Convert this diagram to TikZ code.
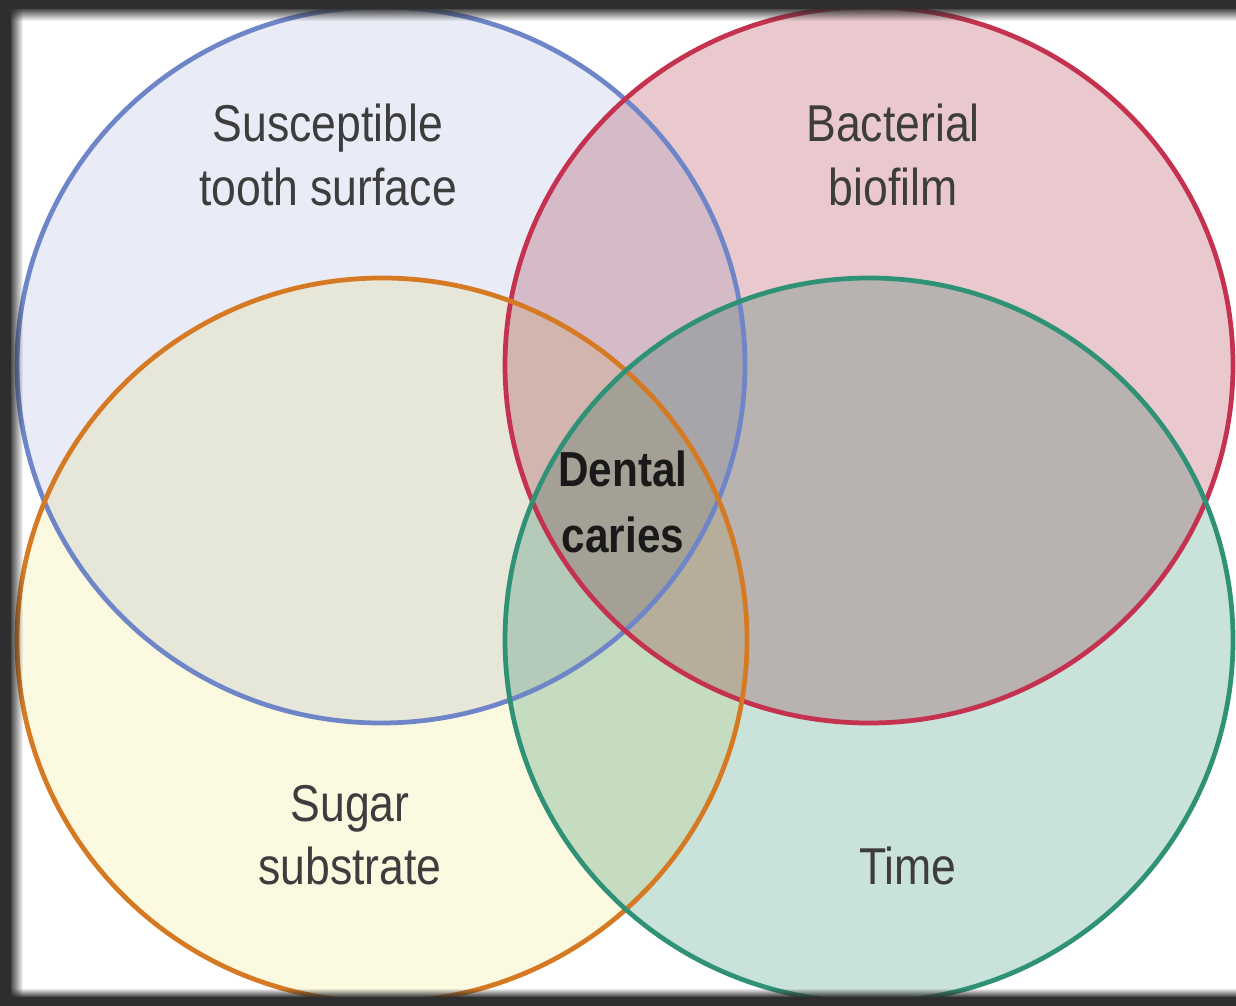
\documentclass[tikz,border=0pt]{standalone}
\usepackage{fontspec}
\setmainfont[FakeStretch=0.86]{Liberation Sans}
\usepackage{tikz}
\usetikzlibrary{positioning}

\definecolor{tsline}{HTML}{6E86C8}
\definecolor{tsfill}{HTML}{E9ECF7}
\definecolor{bbline}{HTML}{C4324F}
\definecolor{bbfill}{HTML}{EAC9CE}
\definecolor{ssline}{HTML}{D57A22}
\definecolor{ssfill}{HTML}{FCF9E1}
\definecolor{tiline}{HTML}{2F9276}
\definecolor{tifill}{HTML}{C9E2DA}
\definecolor{frame}{HTML}{2E2E2E}

\begin{document}
\begin{tikzpicture}[
  x=0.02cm, y=-0.02cm,
  ring/.style={line width=2.7pt},
  label/.style={
    align=center,
    text=black!76,
    font=\fontsize{29.5}{36}\selectfont,
    inner sep=0pt
  },
  core/.style={
    label,
    text=black!90,
    font=\fontsize{28}{38}\selectfont\bfseries
  }
]
\useasboundingbox (0,0) rectangle (1236,1006);
\fill[white] (0,0) rectangle (1236,1006);

% Four overlapping factors, mixed like transparent inks.
\begin{scope}[blend group=multiply]
  \fill[tsfill] (381,365) ellipse [x radius=364, y radius=358];
  \fill[bbfill] (869,365) ellipse [x radius=364, y radius=358];
  \fill[ssfill] (382,640) ellipse [x radius=365, y radius=362];
  \fill[tifill] (869,640) ellipse [x radius=364, y radius=362];
\end{scope}

% Outlines.
\draw[ring, tsline] (381,365) ellipse [x radius=364, y radius=358];
\draw[ring, bbline] (869,365) ellipse [x radius=364, y radius=358];
\draw[ring, ssline] (382,640) ellipse [x radius=365, y radius=362];
\draw[ring, tiline] (869,640) ellipse [x radius=364, y radius=362];

% Labels.
\node[label] (tooth) at (328,155) {Susceptible\\tooth surface};
\node[label] (biofilm) at (893,155) {Bacterial\\biofilm};
\node[label] (sugar) at (350,835) {Sugar\\substrate};
\node[label] (time) at (908,866) {Time};
\node[core] (caries) at (623,502) {Dental\\caries};

% Dark frame with soft edge (left, top, bottom).
\fill[frame] (0,0) rectangle (11,1006);
\fill[frame] (0,0) rectangle (1236,9);
\fill[frame] (0,997) rectangle (1236,1006);
\foreach \i in {0,...,11} {
  \pgfmathsetmacro{\op}{0.85*(1-\i/12)}
  \fill[frame, opacity=\op] (11+\i,9) rectangle (12+\i,997);
  \fill[frame, opacity=\op] (11,9+\i) rectangle (1236,10+\i);
}
\foreach \i in {0,...,7} {
  \pgfmathsetmacro{\op}{0.85*(1-\i/8)}
  \fill[frame, opacity=\op] (11,996-\i) rectangle (1236,997-\i);
}
\end{tikzpicture}
\end{document}
